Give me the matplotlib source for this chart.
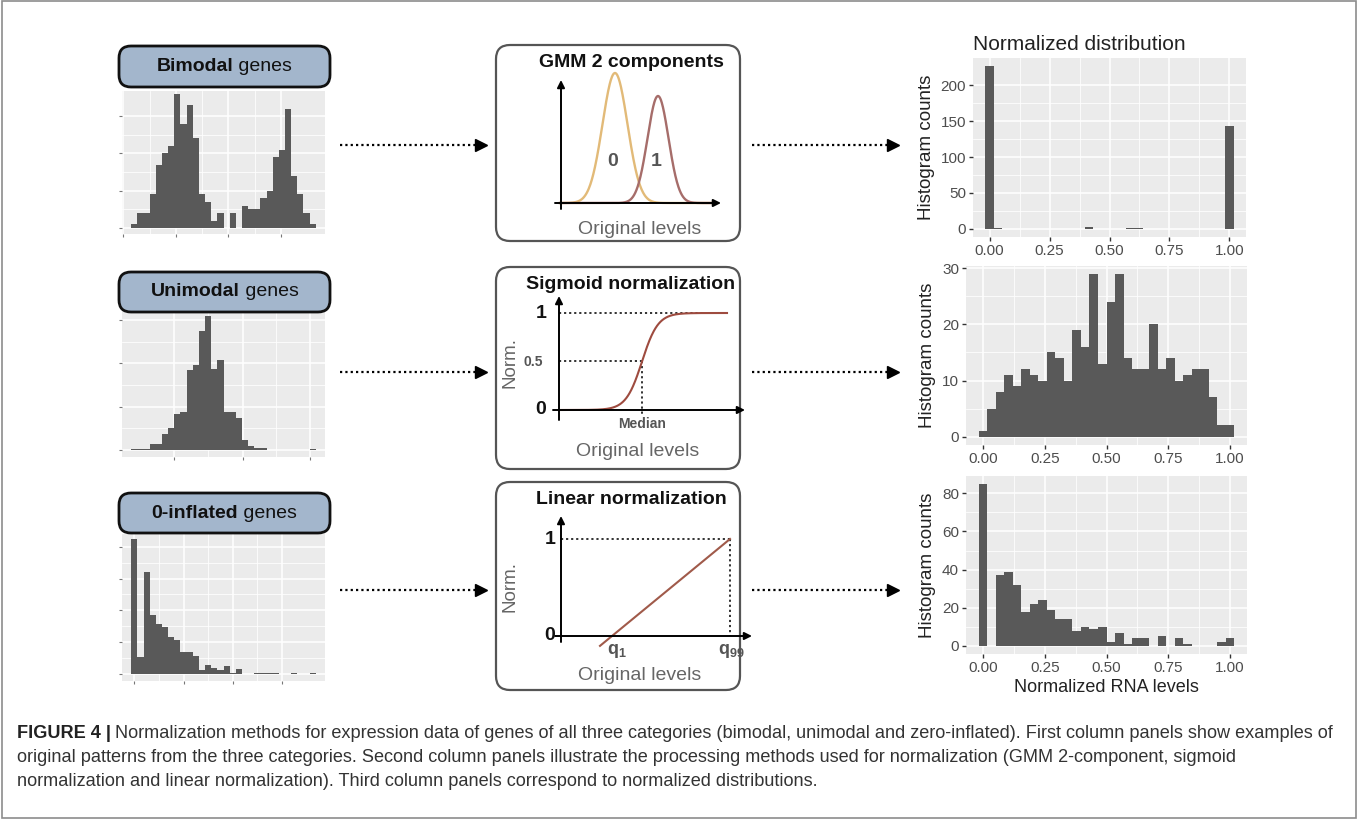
import numpy as np
import matplotlib.pyplot as plt
from matplotlib.patches import FancyBboxPatch, Rectangle

plt.rcParams['font.family'] = ['Liberation Sans', 'DejaVu Sans']

W, H = 1358, 821

# ---- data: original expression histograms (30 bins each, counts) ----
bins_orig = np.arange(30)
bimodal_counts = [1, 4, 4, 9, 17, 20, 22, 36, 28, 33, 24, 9, 7, 2, 4,
                  0, 4, 0, 6, 5, 5, 8, 10, 19, 21, 32, 14, 9, 4, 1]
unimodal_counts = [1, 1, 1, 7, 7, 19, 25, 42, 44, 92, 98, 137, 155, 93, 104,
                   44, 44, 37, 12, 5, 2, 2, 0, 0, 0, 0, 0, 0, 0, 1]
zeroinfl_counts = [106, 13, 80, 46, 39, 37, 29, 27, 17, 17, 14, 3, 7, 5, 3,
                   6, 1, 4, 0, 0, 1, 1, 1, 1, 0, 0, 1, 0, 0, 1]

# ---- data: normalized histograms (bins centred on k/29) ----
bins_norm = np.arange(30) / 29
norm_bimodal = [227, 1, 0, 0, 0, 0, 0, 0, 0, 0, 0, 0, 2, 0, 0,
                0, 0, 1, 1, 0, 0, 0, 0, 0, 0, 0, 0, 0, 0, 143]
norm_unimodal = [1, 5, 8, 11, 9, 12, 11, 10, 15, 14, 10, 19, 16, 29, 13,
                 24, 29, 14, 12, 12, 20, 12, 14, 10, 11, 12, 12, 7, 2, 2]
norm_zeroinfl = [85, 0, 37, 39, 32, 18, 22, 24, 19, 14, 14, 8, 10, 9, 10,
                 2, 7, 1, 4, 4, 0, 5, 0, 4, 1, 0, 0, 0, 2, 4]

row_labels = [('Bimodal', ' genes'), ('Unimodal', ' genes'), ('0-inflated', ' genes')]
method_titles = ['GMM 2 components', 'Sigmoid normalization', 'Linear normalization']

caption_bold = 'FIGURE 4 |'
caption_lines = [
    'Normalization methods for expression data of genes of all three categories (bimodal, unimodal and zero-inflated). First column panels show examples of',
    'original patterns from the three categories. Second column panels illustrate the processing methods used for normalization (GMM 2-component, sigmoid',
    'normalization and linear normalization). Third column panels correspond to normalized distributions.',
]

BAR = '#595959'
GRAY_TXT = '#666666'

fig = plt.figure(figsize=(W / 100, H / 100), dpi=100)

# base canvas in pixel units
cv = fig.add_axes([0, 0, 1, 1])
cv.set_xlim(0, W)
cv.set_ylim(H, 0)
cv.axis('off')


def px_axes(l, t, r, b, z=1):
    return fig.add_axes([l / W, 1 - b / H, (r - l) / W, (b - t) / H], zorder=z)


def gg_style(ax, xlim, ylim, xmaj, ymaj, labels=True):
    ax.set_facecolor('#EBEBEB')
    for s in ax.spines.values():
        s.set_visible(False)
    ax.set_xlim(xlim)
    ax.set_ylim(ylim)
    ax.set_xticks(xmaj)
    ax.set_yticks(ymaj)
    xm = [(a + b) / 2 for a, b in zip(xmaj[:-1], xmaj[1:])]
    ym = [(a + b) / 2 for a, b in zip(ymaj[:-1], ymaj[1:])]
    ax.set_xticks(xm, minor=True)
    ax.set_yticks(ym, minor=True)
    ax.grid(which='major', color='white', lw=1.1)
    ax.grid(which='minor', color='white', lw=0.55)
    ax.set_axisbelow(True)
    ax.tick_params(which='minor', length=0)
    if labels:
        ax.tick_params(which='major', length=3, width=1, color='#333333',
                       labelcolor='#4D4D4D', labelsize=11, pad=2)
    else:
        ax.tick_params(which='major', length=2, width=0.8, color='#777777',
                       labelleft=False, labelbottom=False)


# ---- left column: original distributions ----
left_specs = [
    (bimodal_counts, (91.5, 233.6), (-1.5, 36.6), [-1.35, 7.3, 15.8, 24.3], [0, 10, 20, 30]),
    (unimodal_counts, (309.5, 456.7), (-7.75, 162), [6.9, 18.1, 29.1], [0, 50, 100, 150]),
    (zeroinfl_counts, (534, 680.7), (-5.3, 110), [0.5, 8.5, 16.5, 24.5], [0, 25, 50, 75, 100]),
]
for counts, (t, b), ylim, xt, yt in left_specs:
    ax = px_axes(122, t, 325, b)
    gg_style(ax, (-1.5, 31.5), ylim, xt, yt, labels=False)
    ax.bar(bins_orig, counts, width=1, align='edge', color=BAR)

# ---- right column: normalized distributions ----
norm_ticks = [0, 0.25, 0.5, 0.75, 1.0]
right_specs = [
    (norm_bimodal, (973, 58, 1246, 236.7), [0, 50, 100, 150, 200]),
    (norm_unimodal, (966, 265.8, 1247, 444.8), [0, 10, 20, 30]),
    (norm_zeroinfl, (966, 475.6, 1247, 654.1), [0, 20, 40, 60, 80]),
]
for i, (counts, box, yt) in enumerate(right_specs):
    ax = px_axes(*box)
    top = max(counts)
    gg_style(ax, (-0.069, 1.069), (-0.05 * top, 1.05 * top), norm_ticks, yt)
    ax.set_xticklabels(['0.00', '0.25', '0.50', '0.75', '1.00'])
    ax.bar(bins_norm, counts, width=1 / 29, color=BAR)
    ax.set_ylabel('Histogram counts', fontsize=13.5, color='#222222', labelpad=4)
    if i == 0:
        ax.set_title('Normalized distribution', fontsize=15, color='#222222', pad=6, loc='left')
    if i == 2:
        ax.set_xlabel('Normalized RNA levels', fontsize=13, color='#222222', labelpad=3)

# ---- middle column: method boxes ----
box_rows = [(45, 241), (267, 469), (482, 690)]
for (t, b), title in zip(box_rows, method_titles):
    cv.add_patch(FancyBboxPatch((496, t), 244, b - t, boxstyle='round,pad=0,rounding_size=14',
                                fc='white', ec='#555555', lw=1.6))
    cv.text(631, t + 9, title, ha='center', va='top', fontsize=14, fontweight='bold', color='#111111')

arrow_kw = dict(arrowstyle='-|>', color='black', lw=1.4, mutation_scale=11, shrinkA=0, shrinkB=0)

# GMM sketch
gmm_base, gmm_x0, gmm_x1 = 203, 560, 721
cv.annotate('', xy=(561, 80), xytext=(561, 209), arrowprops=arrow_kw)
cv.annotate('', xy=(gmm_x1, gmm_base), xytext=(555, gmm_base), arrowprops=arrow_kw)
gmm_means = [615, 658]
gmm_sigmas = [12.5, 10.5]
gmm_heights = [130, 107]
gmm_colors = ['#E2BA78', '#A66D6A']
xs = np.linspace(gmm_x0, gmm_x1 - 6, 400)
for m, s, h, c, lab in zip(gmm_means, gmm_sigmas, gmm_heights, gmm_colors, ['0', '1']):
    cv.plot(xs, gmm_base - h * np.exp(-0.5 * ((xs - m) / s) ** 2), color=c, lw=1.7)
    cv.text(m - 2, 162, lab, ha='center', va='center', fontsize=14, fontweight='bold', color='#555555')
cv.text(640, 230, 'Original levels', ha='center', va='center', fontsize=14, color=GRAY_TXT)

# Sigmoid sketch
sg_zero, sg_one, sg_ax = 410, 313, 559
cv.annotate('', xy=(sg_ax, 296), xytext=(sg_ax, 420), arrowprops=arrow_kw)
cv.annotate('', xy=(745, sg_zero), xytext=(553, sg_zero), arrowprops=arrow_kw)
sg_med, sg_scale = 642, 8.0
xs = np.linspace(sg_ax, 727, 400)
dots = dict(color='#222222', lw=1.3, ls=(0, (1.2, 1.6)))
cv.plot([sg_ax, 727], [sg_one, sg_one], **dots)
mid_y = (sg_zero + sg_one) / 2
cv.plot([sg_ax, sg_med], [mid_y, mid_y], **dots)
cv.plot([sg_med, sg_med], [mid_y, sg_zero + 4], **dots)
cv.plot(xs, sg_zero - (sg_zero - sg_one) / (1 + np.exp(-(xs - sg_med) / sg_scale)), color='#9E4B3F', lw=1.5)
cv.text(541, sg_one, '1', ha='center', va='center', fontsize=14, fontweight='bold', color='#111111')
cv.text(541, sg_zero, '0', ha='center', va='center', fontsize=14, fontweight='bold', color='#111111')
cv.text(533, mid_y, '0.5', ha='center', va='center', fontsize=10, fontweight='bold', color='#555555')
cv.text(sg_med, 424, 'Median', ha='center', va='center', fontsize=10, fontweight='bold', color='#555555')
cv.text(510, 363, 'Norm.', ha='center', va='center', rotation=90, fontsize=13.5, color=GRAY_TXT)
cv.text(638, 452, 'Original levels', ha='center', va='center', fontsize=14, color=GRAY_TXT)

# Linear sketch
ln_zero, ln_one, ln_ax = 636, 539, 561
q1_x, q99_x = 612, 730
cv.annotate('', xy=(ln_ax, 516), xytext=(ln_ax, 642), arrowprops=arrow_kw)
cv.annotate('', xy=(752, ln_zero), xytext=(555, ln_zero), arrowprops=arrow_kw)
cv.plot([ln_ax, q99_x], [ln_one, ln_one], **dots)
cv.plot([q99_x, q99_x], [ln_one, ln_zero], **dots)
slope = (ln_zero - ln_one) / (q99_x - q1_x)
cv.plot([600, q99_x], [ln_zero + slope * (q1_x - 600), ln_one], color='#A05A4A', lw=1.5)
cv.text(550, ln_one, '1', ha='center', va='center', fontsize=14, fontweight='bold', color='#111111')
cv.text(550, ln_zero, '0', ha='center', va='center', fontsize=14, fontweight='bold', color='#111111')
cv.text(617, 651, 'q$_\\mathregular{1}$', ha='center', va='center', fontsize=13, fontweight='bold', color='#555555')
cv.text(731, 651, 'q$_\\mathregular{99}$', ha='center', va='center', fontsize=13, fontweight='bold', color='#555555')
cv.text(510, 587, 'Norm.', ha='center', va='center', rotation=90, fontsize=13.5, color=GRAY_TXT)
cv.text(640, 676, 'Original levels', ha='center', va='center', fontsize=14, color=GRAY_TXT)

# ---- dotted arrows between columns ----
arrow_rows = [145, 372, 590]
for y in arrow_rows:
    for x0, x1 in [(340, 485), (752, 897)]:
        cv.plot([x0, x1 - 8], [y, y], color='black', lw=1.6, ls=(0, (1, 1.4)))
        cv.plot([x1 - 4], [y], marker='>', ms=8, color='black')

# ---- row label boxes (on top of the left panels) ----
ov = fig.add_axes([0, 0, 1, 1], zorder=5)
ov.set_xlim(0, W)
ov.set_ylim(H, 0)
ov.axis('off')
label_rows = [(46, 87), (272, 312), (493, 533)]
r = fig.canvas.get_renderer()
for (t, b), (bold, rest) in zip(label_rows, row_labels):
    ov.add_patch(FancyBboxPatch((119, t), 211, b - t, boxstyle='round,pad=0,rounding_size=12',
                                fc='#A3B6CC', ec='#111111', lw=2))
    tb = ov.text(0, 0, bold, fontsize=14, fontweight='bold', va='center', color='#111111')
    tr = ov.text(0, 0, rest, fontsize=14, va='center', color='#111111')
    wb = tb.get_window_extent(r).width
    wr = tr.get_window_extent(r).width
    x0 = 224.5 - (wb + wr) / 2
    yc = (t + b) / 2
    tb.set_position((x0, yc))
    tr.set_position((x0 + wb, yc))

# ---- caption ----
cap_size = 13.1
cb = ov.text(17, 733, caption_bold, fontsize=cap_size, fontweight='bold', va='center', color='#222222')
wb = cb.get_window_extent(r).width
ov.text(17 + wb + 4, 733, caption_lines[0], fontsize=cap_size, va='center', color='#333333')
for y, line in zip([757, 782], caption_lines[1:]):
    ov.text(17, y, line, fontsize=cap_size, va='center', color='#333333')

# outer frame
ov.add_patch(Rectangle((1.5, 1.5), W - 4, H - 4, fill=False, ec='#8C8C8C', lw=1.2))

fig.savefig('out.png', dpi=100)
